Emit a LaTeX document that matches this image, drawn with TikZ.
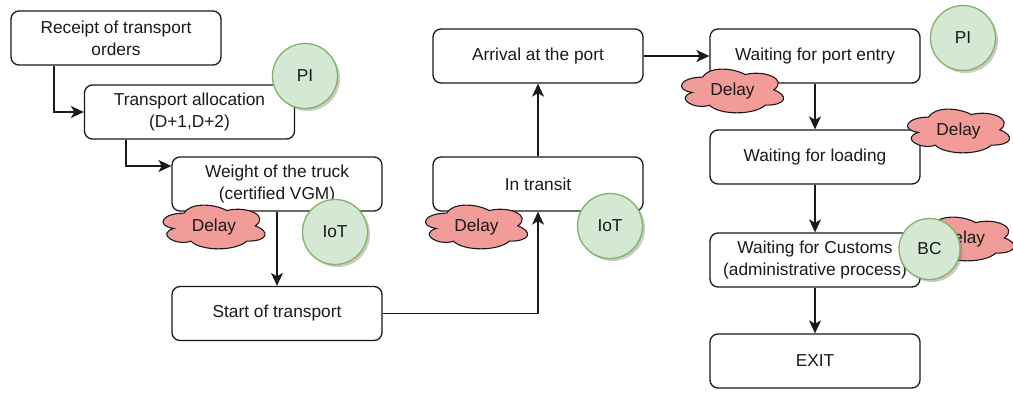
\documentclass[tikz,border=0pt]{standalone}
\usepackage{fontspec}
\setmainfont{Liberation Sans}
\usetikzlibrary{arrows.meta,shadows}

\definecolor{tagfill}{HTML}{D5E8D4}
\definecolor{tagline}{HTML}{82B366}
\definecolor{delayfill}{HTML}{F19C99}
\definecolor{inkcol}{HTML}{1A1A1A}

\tikzset{
  stepbox/.style={draw=inkcol, line width=1.3pt, rounded corners=8pt, fill=white,
    minimum width=210pt, minimum height=54pt, inner sep=0pt, align=center,
    text=inkcol, font=\fontsize{17.3}{22}\selectfont},
  tag/.style={circle, draw=tagline, line width=1.3pt, fill=tagfill,
    minimum size=#1, inner sep=0pt, text=inkcol, font=\fontsize{17.3}{22}\selectfont,
    drop shadow={shadow xshift=2.5pt, shadow yshift=-2.5pt, opacity=0.35, fill=black!60}},
  tag/.default=65pt,
  delayline/.style={draw=inkcol, line width=1.1pt, fill=delayfill},
  delaytext/.style={inner sep=0pt, text=inkcol, font=\fontsize{17.3}{22}\selectfont},
  flow/.style={draw=inkcol, line width=1.3pt,
    -{Stealth[length=13pt,width=12pt,inset=3.5pt]}}
}

% cloud-shaped "Delay" marker; #1 = node name, (#2,#3) = centre of the cloud
\newcommand{\delaycloud}[3]{%
  \begin{scope}[shift={(#2,#3)}, x=114pt, y=-51pt, shift={(-0.5125,-0.522)}]
    \path[delayline] (0.25,0.25)
      .. controls (0.05,0.25) and (0,0.5) .. (0.16,0.55)
      .. controls (0,0.66) and (0.18,0.9) .. (0.31,0.8)
      .. controls (0.4,1) and (0.7,1) .. (0.8,0.8)
      .. controls (1,0.8) and (1,0.6) .. (0.875,0.5)
      .. controls (1,0.3) and (0.8,0.1) .. (0.625,0.2)
      .. controls (0.5,0.05) and (0.3,0.05) .. (0.25,0.25) -- cycle;
    \node[delaytext] (#1) at (0.5125,0.522) {Delay};
  \end{scope}}

\begin{document}
\begin{tikzpicture}[x=1pt,y=-1pt]
  \useasboundingbox (0,0) rectangle (1013,392);

  % process steps
  \node[stepbox] (rec)      at (116,38)    {Receipt of transport\\orders};
  \node[stepbox] (alloc)    at (189.5,112) {Transport allocation\\(D+1,D+2)};
  \node[stepbox] (weight)   at (277,184)   {Weight of the truck\\(certified VGM)};
  \node[stepbox] (start)    at (277,313.5) {Start of transport};
  \node[stepbox] (transit)  at (538,184)   {In transit};
  \node[stepbox] (arrival)  at (538,56)    {Arrival at the port};
  \node[stepbox] (portin)   at (815,56)    {Waiting for port entry};
  \node[stepbox] (loading)  at (815,157)   {Waiting for loading};
  \node[stepbox] (customs)  at (815,260)   {Waiting for Customs\\(administrative process)};
  \node[stepbox] (exit)     at (815,361)   {EXIT};

  % connectors
  \draw[flow] (rec.south -| 54,0) |- (alloc.west);
  \draw[flow] (alloc.south -| 126,0) |- (weight.west |- 0,166);
  \draw[flow] (weight) -- (start);
  \draw[flow] (start.east) -| (transit.south);
  \draw[flow] (transit) -- (arrival);
  \draw[flow] (arrival) -- (portin);
  \draw[flow] (portin) -- (loading);
  \draw[flow] (loading) -- (customs);
  \draw[flow] (customs) -- (exit);

  % delay markers
  \delaycloud{d1}{214}{227}
  \delaycloud{d2}{476.5}{227}
  \delaycloud{d3}{732.5}{91}
  \delaycloud{d4}{958.5}{131}
  \delaycloud{d5}{963}{239}

  % technology tags
  \node[tag] (pi1)  at (305,76)  {PI};
  \node[tag] (iot1) at (335,232) {IoT};
  \node[tag] (iot2) at (610,226) {IoT};
  \node[tag] (pi2)  at (963,38)  {PI};
  \node[tag=61pt] (bc) at (929.5,249) {BC};
\end{tikzpicture}
\end{document}
